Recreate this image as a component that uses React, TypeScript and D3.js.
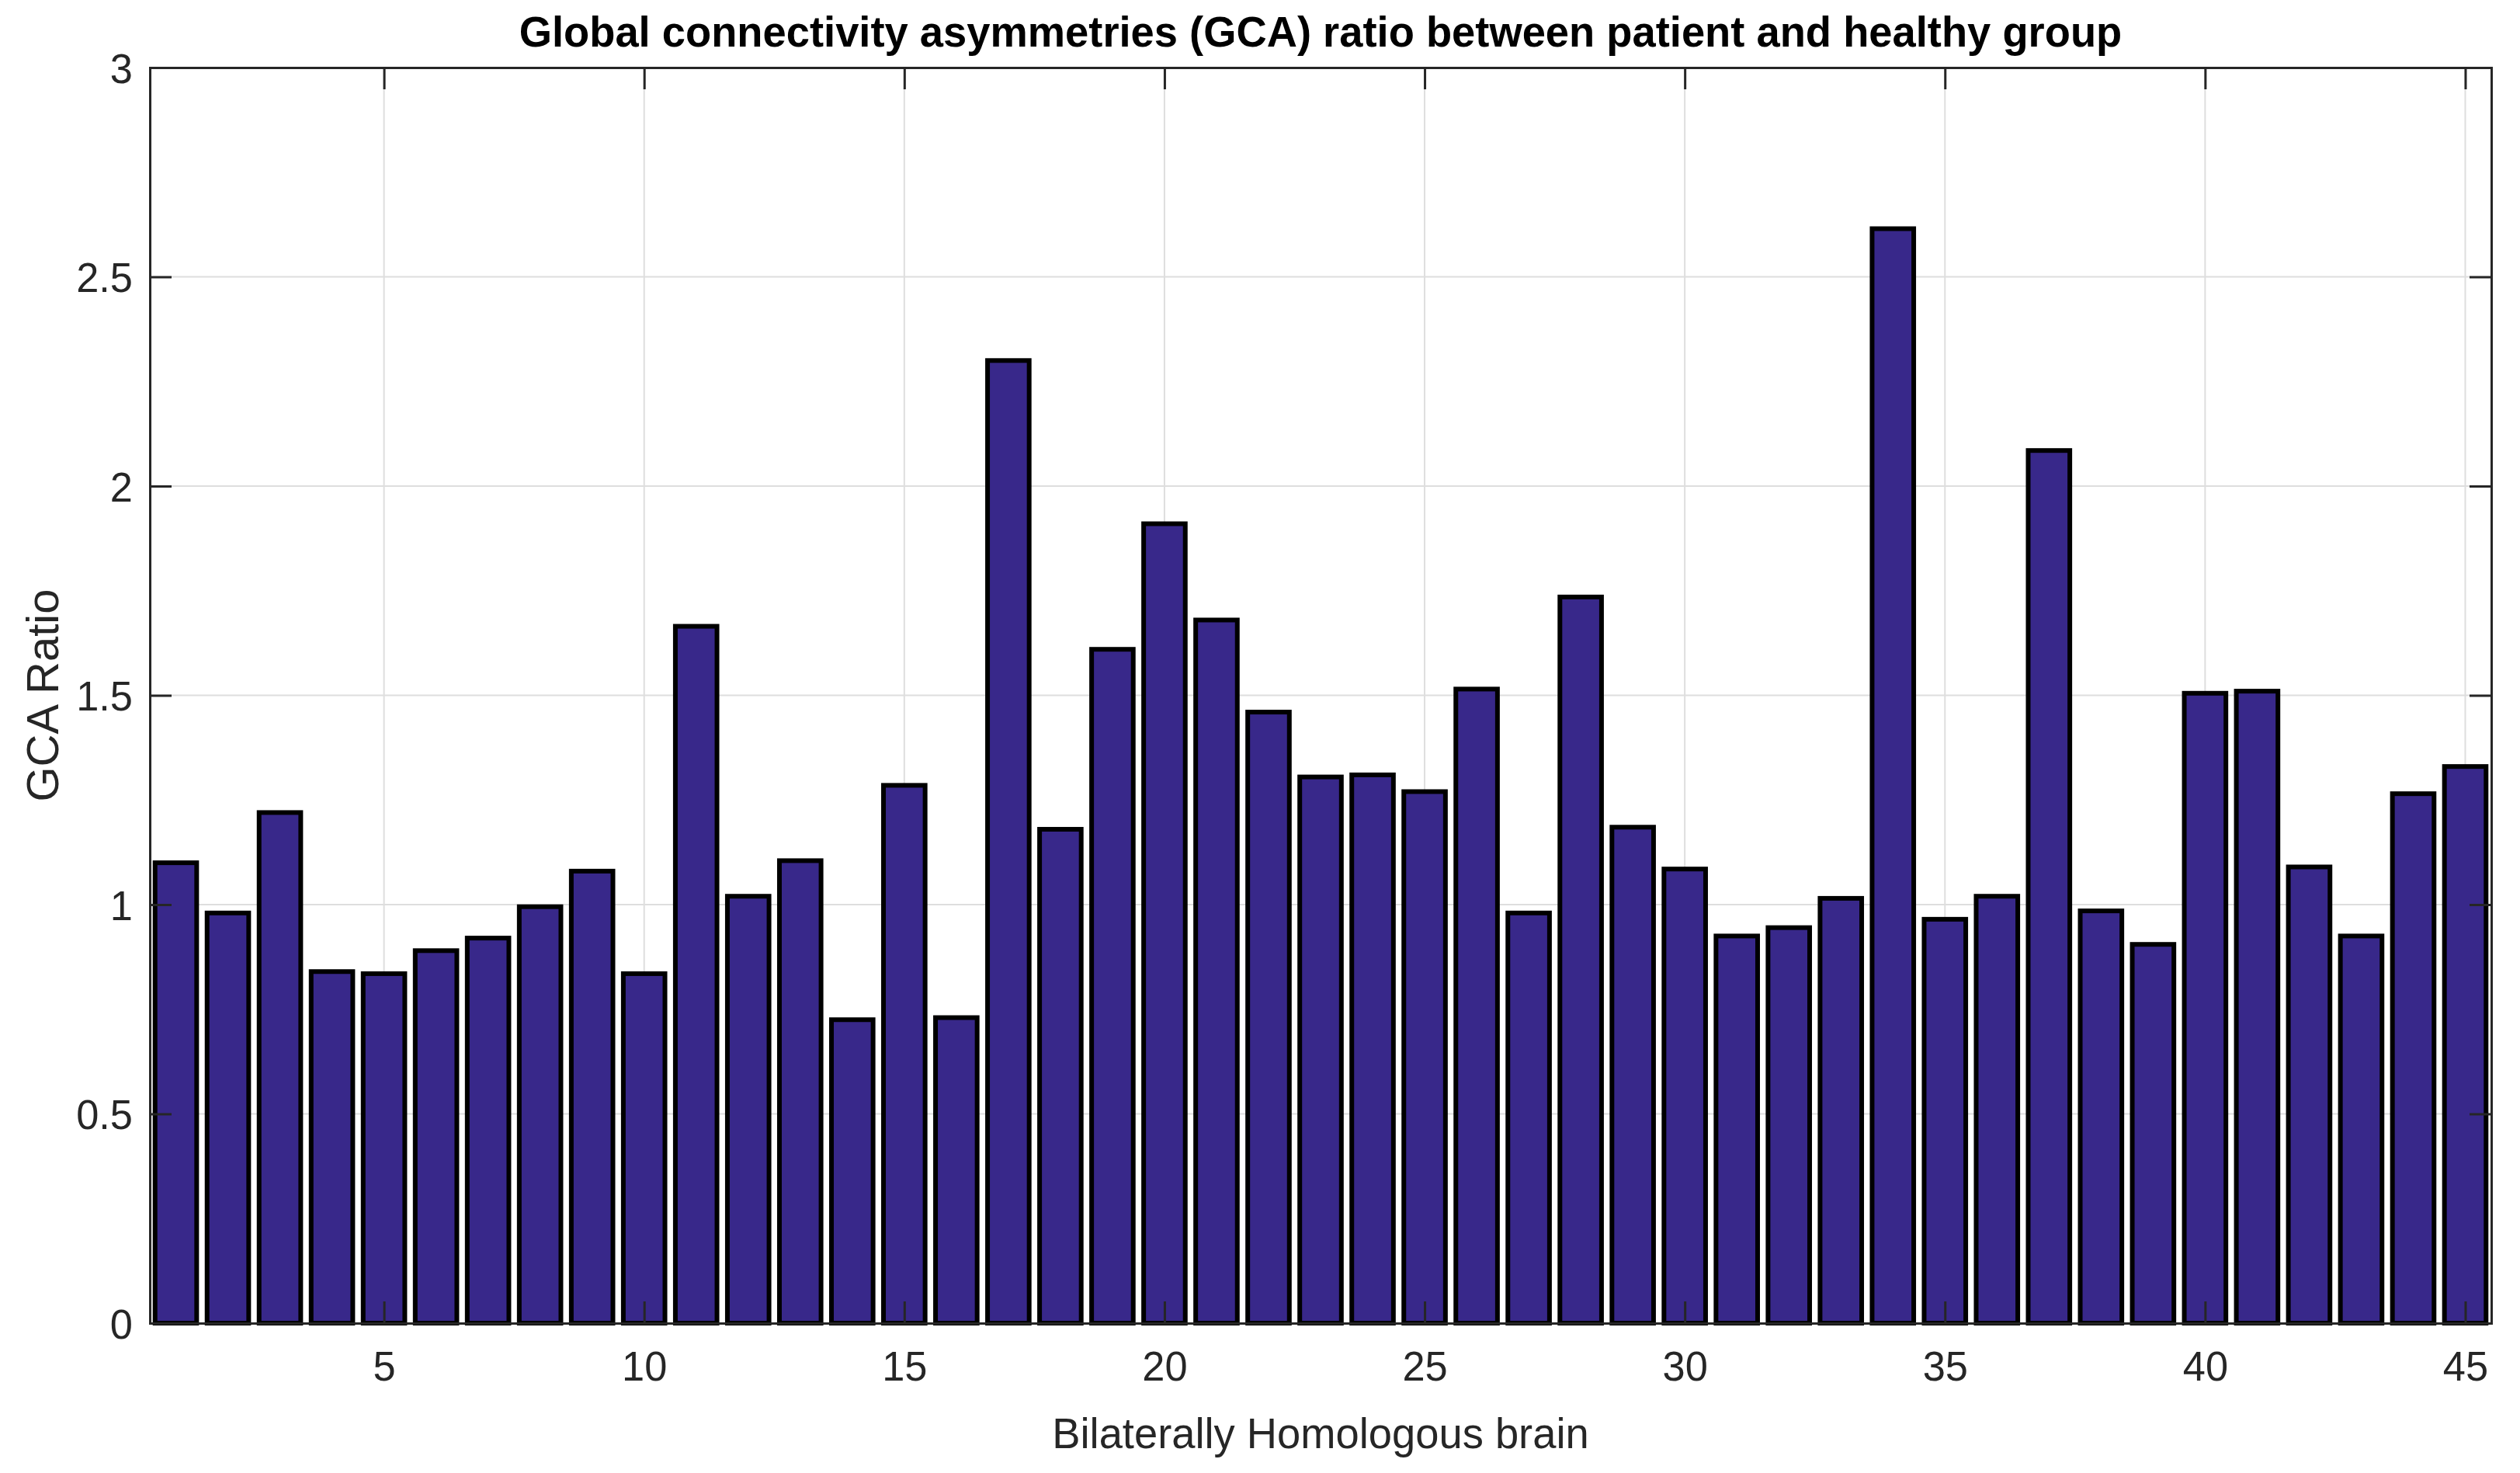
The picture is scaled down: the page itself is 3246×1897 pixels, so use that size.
import React, { useEffect, useRef } from "react";
import * as d3 from "d3";

const W = 3246;
const H = 1897;

// bilaterally homologous brain regions 1..45
const regions = d3.range(1, 46);
const gcaRatio = [
  1.10, 0.98, 1.22, 0.84, 0.835, 0.89, 0.92, 0.995, 1.08, 0.835,
  1.665, 1.02, 1.105, 0.725, 1.285, 0.73, 2.30, 1.18, 1.61, 1.91,
  1.68, 1.46, 1.305, 1.31, 1.27, 1.515, 0.98, 1.735, 1.185, 1.085,
  0.925, 0.945, 1.015, 2.615, 0.965, 1.02, 2.085, 0.985, 0.905, 1.505,
  1.51, 1.09, 0.925, 1.265, 1.33,
];
const xTicks = [5, 10, 15, 20, 25, 30, 35, 40, 45];
const yTicks = [0, 0.5, 1, 1.5, 2, 2.5, 3];

const title = "Global connectivity asymmetries (GCA) ratio between patient and healthy group";
const xLabel = "Bilaterally Homologous brain";
const yLabel = "GCA Ratio";

const App = () => {
  const ref = useRef<SVGSVGElement | null>(null);

  useEffect(() => {
    document.body.style.margin = "0";
    const margin = { top: 87, right: W - 3209, bottom: H - 1704, left: 193 };
    const width = W - margin.left - margin.right;
    const height = H - margin.top - margin.bottom;

    const svg = d3.select(ref.current);
    svg.selectAll("*").remove();
    const g = svg.append("g").attr("transform", "translate(" + margin.left + "," + margin.top + ")");

    const x = d3.scaleLinear().domain([0.5, 45.5]).range([0, width]);
    const y = d3.scaleLinear().domain([0, 3]).range([height, 0]);
    const barW = (x(1.8) - x(1));

    // grid
    g.append("g").selectAll("line").data(xTicks).join("line")
      .attr("x1", d => x(d)).attr("x2", d => x(d))
      .attr("y1", 0).attr("y2", height)
      .attr("stroke", "#dedede").attr("stroke-width", 2);
    g.append("g").selectAll("line").data(yTicks.slice(1, -1)).join("line")
      .attr("x1", 0).attr("x2", width)
      .attr("y1", d => y(d)).attr("y2", d => y(d))
      .attr("stroke", "#dedede").attr("stroke-width", 2);

    // bars
    g.append("g").selectAll("rect").data(regions).join("rect")
      .attr("x", d => x(d) - barW / 2)
      .attr("width", barW)
      .attr("y", (d, i) => y(gcaRatio[i]))
      .attr("height", (d, i) => y(0) - y(gcaRatio[i]))
      .attr("fill", "#38288a")
      .attr("stroke", "#000")
      .attr("stroke-width", 6);

    // axes with inward ticks, box on
    const tickLen = 28;
    const axColor = "#262626";
    const font = "Liberation Sans, Arial, sans-serif";
    const bottom = g.append("g").attr("transform", "translate(0," + height + ")")
      .call(d3.axisBottom(x).tickValues(xTicks).tickSize(-tickLen).tickPadding(36).tickFormat(d3.format("d")));
    const top = g.append("g")
      .call(d3.axisTop(x).tickValues(xTicks).tickSize(-tickLen).tickFormat(() => ""));
    const left = g.append("g")
      .call(d3.axisLeft(y).tickValues(yTicks).tickSize(-tickLen).tickPadding(22).tickFormat(d3.format("")));
    const right = g.append("g").attr("transform", "translate(" + width + ",0)")
      .call(d3.axisRight(y).tickValues(yTicks).tickSize(-tickLen).tickFormat(() => ""));
    [bottom, top, left, right].forEach(a => {
      a.select(".domain").attr("stroke", axColor).attr("stroke-width", 3);
      a.selectAll(".tick line").attr("stroke", axColor).attr("stroke-width", 3);
      a.selectAll("text").attr("fill", axColor).attr("font-size", 54).attr("font-family", font);
    });
    left.selectAll("text").attr("dy", "0.36em");

    // labels
    svg.append("text")
      .attr("x", margin.left + width / 2).attr("y", 60)
      .attr("text-anchor", "middle")
      .attr("font-family", font)
      .attr("font-weight", "bold").attr("font-size", 56)
      .attr("fill", "#000")
      .text(title);
    svg.append("text")
      .attr("x", margin.left + width / 2).attr("y", 1865)
      .attr("text-anchor", "middle")
      .attr("font-family", font)
      .attr("font-size", 56).attr("fill", axColor)
      .text(xLabel);
    svg.append("text")
      .attr("class", "ylab")
      .attr("transform", "translate(75," + (margin.top + height / 2) + ") rotate(-90)")
      .attr("text-anchor", "middle")
      .attr("font-family", font)
      .attr("font-size", 58).attr("fill", axColor)
      .text(yLabel);

    // the source figure's text is a little narrow
    svg.selectAll<SVGTextElement, unknown>("text").each(function () {
      const w = this.getComputedTextLength();
      if (w > 0 && !this.classList.contains("ylab")) {
        this.setAttribute("textLength", String(w * 0.97));
        this.setAttribute("lengthAdjust", "spacingAndGlyphs");
      }
    });
  }, []);

  return <svg ref={ref} width={W} height={H} style={{ display: "block", background: "#fff" }} />;
};

export default App;
